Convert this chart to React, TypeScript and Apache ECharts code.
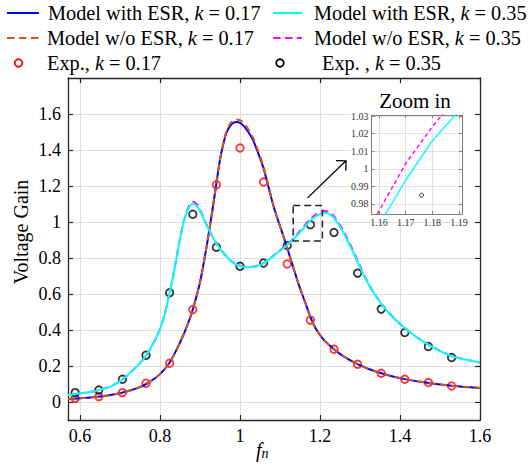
import React, { useEffect, useRef } from "react";
import * as echarts from "echarts";

// ---- k = 0.17 model curves ----
const fn017 = [0.57, 0.6, 0.65, 0.7, 0.75, 0.78, 0.8, 0.823, 0.85, 0.87, 0.882, 0.9, 0.917, 0.93, 0.94, 0.95, 0.96, 0.967, 0.975, 0.983, 0.992, 1.0, 1.008, 1.02, 1.033, 1.045, 1.058, 1.07, 1.083, 1.095, 1.108, 1.118, 1.13, 1.148, 1.163, 1.177, 1.19, 1.208, 1.235, 1.26, 1.294, 1.32, 1.353, 1.38, 1.412, 1.44, 1.471, 1.5, 1.529, 1.56, 1.6];
const gainEsr017 = [0.017, 0.021, 0.031, 0.049, 0.083, 0.12, 0.155, 0.215, 0.33, 0.435, 0.514, 0.665, 0.87, 1.05, 1.2, 1.345, 1.45, 1.5, 1.533, 1.551, 1.556, 1.551, 1.537, 1.503, 1.453, 1.385, 1.305, 1.205, 1.095, 1.01, 0.925, 0.855, 0.77, 0.645, 0.553, 0.466, 0.405, 0.349, 0.293, 0.252, 0.21, 0.185, 0.16, 0.143, 0.127, 0.116, 0.106, 0.097, 0.09, 0.084, 0.078];
const gainNoEsr017 = [0.017, 0.021, 0.031, 0.049, 0.083, 0.12, 0.155, 0.215, 0.33, 0.435, 0.514, 0.665, 0.87, 1.05, 1.2, 1.347, 1.455, 1.51, 1.545, 1.563, 1.57, 1.566, 1.553, 1.518, 1.466, 1.397, 1.313, 1.21, 1.097, 1.011, 0.925, 0.855, 0.77, 0.645, 0.553, 0.466, 0.405, 0.349, 0.293, 0.252, 0.21, 0.185, 0.16, 0.143, 0.127, 0.116, 0.106, 0.097, 0.09, 0.084, 0.078];

// ---- k = 0.35 model curves ----
const fn035 = [0.57, 0.588, 0.6, 0.625, 0.647, 0.68, 0.706, 0.725, 0.75, 0.765, 0.78, 0.8, 0.812, 0.823, 0.833, 0.842, 0.85, 0.858, 0.867, 0.875, 0.883, 0.892, 0.9, 0.912, 0.925, 0.94, 0.95, 0.967, 0.975, 0.988, 1.0, 1.015, 1.025, 1.04, 1.058, 1.075, 1.092, 1.117, 1.133, 1.15, 1.16, 1.17, 1.18, 1.19, 1.2, 1.21, 1.22, 1.233, 1.245, 1.258, 1.27, 1.283, 1.308, 1.333, 1.367, 1.4, 1.442, 1.483, 1.525, 1.56, 1.6];
const gainEsr035 = [0.038, 0.044, 0.048, 0.056, 0.066, 0.09, 0.124, 0.162, 0.215, 0.258, 0.312, 0.405, 0.49, 0.595, 0.7, 0.81, 0.905, 0.99, 1.055, 1.09, 1.101, 1.088, 1.062, 1.005, 0.945, 0.885, 0.852, 0.806, 0.788, 0.767, 0.756, 0.75, 0.749, 0.753, 0.77, 0.795, 0.826, 0.869, 0.903, 0.944, 0.968, 0.9935, 1.016, 1.033, 1.044, 1.051, 1.048, 1.028, 0.99, 0.943, 0.89, 0.832, 0.711, 0.609, 0.507, 0.433, 0.359, 0.303, 0.258, 0.237, 0.219];
const gainNoEsr035 = [0.038, 0.044, 0.048, 0.056, 0.066, 0.09, 0.124, 0.162, 0.215, 0.258, 0.312, 0.405, 0.49, 0.595, 0.7, 0.81, 0.905, 0.99, 1.06, 1.098, 1.112, 1.098, 1.068, 1.008, 0.946, 0.886, 0.853, 0.807, 0.789, 0.768, 0.757, 0.751, 0.75, 0.754, 0.771, 0.797, 0.829, 0.873, 0.906, 0.95, 0.976, 1.003, 1.024, 1.042, 1.054, 1.061, 1.058, 1.037, 0.999, 0.952, 0.899, 0.84, 0.716, 0.612, 0.509, 0.434, 0.36, 0.304, 0.259, 0.238, 0.22];

// ---- experiments ----
const fnExp = [0.588, 0.647, 0.706, 0.765, 0.824, 0.882, 0.941, 1.0, 1.059, 1.118, 1.176, 1.235, 1.294, 1.353, 1.412, 1.471, 1.529];
const expGain017 = [0.02, 0.03, 0.052, 0.104, 0.215, 0.514, 1.207, 1.411, 1.222, 0.767, 0.455, 0.293, 0.21, 0.16, 0.126, 0.108, 0.089];
const expGain035 = [0.052, 0.067, 0.126, 0.26, 0.607, 1.043, 0.86, 0.754, 0.772, 0.869, 0.985, 0.942, 0.716, 0.516, 0.386, 0.308, 0.247];

// ---- ticks ----
const xTicks = [0.6, 0.8, 1, 1.2, 1.4, 1.6];
const yTicks = [0, 0.2, 0.4, 0.6, 0.8, 1, 1.2, 1.4, 1.6];
const insetXTicks = [1.16, 1.17, 1.18, 1.19];
const insetYTicks = [0.98, 0.99, 1, 1.01, 1.02, 1.03];

const pairs = (xs: number[], ys: number[]) => xs.map((x, i) => [x, ys[i]]);

const FONT = "'Liberation Serif', 'Times New Roman', serif";
const BLUE = "#0000ff";
const ORANGE = "#d95319";
const CYAN = "#00ffff";
const MAGENTA = "#ff00ff";
const RED = "#ff0000";

function makeAxis(opts: any) {
  const { gridIndex, min, max, position, ticks, labels, main, z } = opts;
  const color = main ? "#262626" : "#808080";
  return {
    type: "value",
    gridIndex,
    min,
    max,
    position,
    z,
    axisLine: { show: true, onZero: false, lineStyle: { color, width: main ? 1.3 : 1.1 } },
    axisTick: { show: true, inside: true, length: main ? 5 : 3, customValues: ticks, lineStyle: { color, width: main ? 1.2 : 1 } },
    axisLabel: labels
      ? {
          show: true,
          customValues: ticks,
          fontFamily: FONT,
          fontSize: main ? 18 : 10,
          color: main ? "#000" : "#333",
          margin: main ? 7 : 3,
        }
      : { show: false },
    splitLine: labels ? { show: true, lineStyle: { color: main ? "#dedede" : "#e2e2e2", width: 1 } } : { show: false },
  };
}

export default function App() {
  const ref = useRef<HTMLDivElement>(null);

  useEffect(() => {
    if (!ref.current) return;
    const chart = echarts.init(ref.current, undefined, { renderer: "svg" });

    const lineBase = { type: "line", showSymbol: false, symbol: "none", smooth: 0.3, silent: true };
    const insetLine = { type: "line", showSymbol: false, symbol: "none", smooth: false, silent: true };

    chart.setOption({
      animation: false,
      backgroundColor: "#fff",
      grid: [
        { left: 68, top: 78, width: 412, height: 342 },
        { left: 371.5, top: 115, width: 90.5, height: 99, z: 6 },
      ],
      xAxis: [
        makeAxis({ gridIndex: 0, min: 0.57, max: 1.6, position: "bottom", ticks: xTicks, labels: true, main: true }),
        makeAxis({ gridIndex: 0, min: 0.57, max: 1.6, position: "top", ticks: xTicks, labels: false, main: true }),
        makeAxis({ gridIndex: 1, min: 1.1572, max: 1.1911, position: "bottom", ticks: insetXTicks, labels: true, main: false, z: 6 }),
        makeAxis({ gridIndex: 1, min: 1.1572, max: 1.1911, position: "top", ticks: insetXTicks, labels: false, main: false, z: 6 }),
      ],
      yAxis: [
        makeAxis({ gridIndex: 0, min: -0.1, max: 1.8, position: "left", ticks: yTicks, labels: true, main: true }),
        makeAxis({ gridIndex: 0, min: -0.1, max: 1.8, position: "right", ticks: yTicks, labels: false, main: true }),
        makeAxis({ gridIndex: 1, min: 0.9743, max: 1.0306, position: "left", ticks: insetYTicks, labels: true, main: false, z: 6 }),
        makeAxis({ gridIndex: 1, min: 0.9743, max: 1.0306, position: "right", ticks: insetYTicks, labels: false, main: false, z: 6 }),
      ],
      series: [
        { ...lineBase, name: "Model with ESR, k = 0.17", xAxisIndex: 0, yAxisIndex: 0, data: pairs(fn017, gainEsr017), lineStyle: { color: BLUE, width: 2 } },
        { ...lineBase, name: "Model w/o ESR, k = 0.17", xAxisIndex: 0, yAxisIndex: 0, data: pairs(fn017, gainNoEsr017), lineStyle: { color: ORANGE, width: 2, type: [7, 4.5] } },
        { ...lineBase, name: "Model w/o ESR, k = 0.35", xAxisIndex: 0, yAxisIndex: 0, data: pairs(fn035, gainNoEsr035), lineStyle: { color: MAGENTA, width: 2, type: [7, 4.5] } },
        { ...lineBase, name: "Model with ESR, k = 0.35", xAxisIndex: 0, yAxisIndex: 0, data: pairs(fn035, gainEsr035), lineStyle: { color: CYAN, width: 2 } },
        {
          type: "scatter", name: "Exp., k = 0.17", xAxisIndex: 0, yAxisIndex: 0, silent: true,
          data: pairs(fnExp, expGain017), symbol: "circle", symbolSize: 7.5,
          itemStyle: { color: "rgba(0,0,0,0)", borderColor: RED, borderWidth: 1.8 },
        },
        {
          type: "scatter", name: "Exp. , k = 0.35", xAxisIndex: 0, yAxisIndex: 0, silent: true,
          data: pairs(fnExp, expGain035), symbol: "circle", symbolSize: 7.5,
          itemStyle: { color: "rgba(0,0,0,0)", borderColor: "#000", borderWidth: 1.8 },
        },
        // inset
        { ...insetLine, z: 7, xAxisIndex: 2, yAxisIndex: 2, data: pairs(fn035, gainNoEsr035), lineStyle: { color: MAGENTA, width: 1.4, type: [4, 3] } },
        { ...insetLine, z: 7, xAxisIndex: 2, yAxisIndex: 2, data: pairs(fn035, gainEsr035), lineStyle: { color: CYAN, width: 1.4 } },
        {
          type: "scatter", z: 7, xAxisIndex: 2, yAxisIndex: 2, silent: true,
          data: pairs(fnExp, expGain035), symbol: "circle", symbolSize: 4,
          itemStyle: { color: "rgba(0,0,0,0)", borderColor: "#000", borderWidth: 1 },
        },
      ],
    });

    const toPx = (p: number[]) => chart.convertToPixel({ xAxisIndex: 0, yAxisIndex: 0 } as any, p) as number[];
    const b1 = toPx([1.133, 1.091]);
    const b2 = toPx([1.206, 0.895]);
    const a1 = toPx([1.169, 1.134]);
    const a2 = toPx([1.265, 1.34]);
    const ang = Math.atan2(a2[1] - a1[1], a2[0] - a1[0]);
    const L = 10;
    const h1 = [a2[0] - L * Math.cos(ang - Math.PI / 4), a2[1] - L * Math.sin(ang - Math.PI / 4)];
    const h2 = [a2[0] - L * Math.cos(ang + Math.PI / 4), a2[1] - L * Math.sin(ang + Math.PI / 4)];

    const LF = 20.3;
    const txt = (x: number, y: number, text: string) => ({
      type: "text",
      x,
      y,
      z: 20,
      style: {
        text,
        fontFamily: FONT,
        fontSize: LF,
        fill: "#000",
        align: "left",
        verticalAlign: "middle",
        rich: {
          a: { fontFamily: FONT, fontSize: LF, fill: "#000" },
          i: { fontFamily: FONT, fontSize: LF, fontStyle: "italic", fill: "#000" },
        },
      },
    });

    const row1 = 13, row2 = 38, row3 = 63;

    chart.setOption({
      graphic: [
        // white panel behind inset
        { type: "rect", z: 4, shape: { x: 351, y: 84, width: 123, height: 138 }, style: { fill: "#fff" } },
        // Zoom in title
        { type: "text", z: 20, x: 415, y: 101, style: { text: "Zoom in", fontFamily: FONT, fontSize: 21, fill: "#000", align: "center", verticalAlign: "middle" } },
        // dashed box
        {
          type: "rect", z: 20,
          shape: { x: b1[0], y: b1[1], width: b2[0] - b1[0], height: b2[1] - b1[1] },
          style: { fill: "none", stroke: "#222", lineWidth: 1.5, lineDash: [7, 4] },
        },
        // arrow
        { type: "line", z: 20, shape: { x1: a1[0], y1: a1[1], x2: a2[0], y2: a2[1] }, style: { stroke: "#000", lineWidth: 1.3 } },
        { type: "polyline", z: 20, shape: { points: [h1, a2, h2] }, style: { stroke: "#000", lineWidth: 1.3, fill: "none" } },
        // legend
        { type: "line", z: 20, shape: { x1: 7, y1: row1, x2: 39, y2: row1 }, style: { stroke: BLUE, lineWidth: 2 } },
        txt(48, row1, "{a|Model with ESR, }{i|k}{a| = 0.17}"),
        { type: "line", z: 20, shape: { x1: 273, y1: row1, x2: 302, y2: row1 }, style: { stroke: CYAN, lineWidth: 2 } },
        txt(314, row1, "{a|Model with ESR, }{i|k}{a| = 0.35}"),
        { type: "line", z: 20, shape: { x1: 7, y1: row2, x2: 39, y2: row2 }, style: { stroke: ORANGE, lineWidth: 2, lineDash: [7.5, 4.5] } },
        txt(47, row2, "{a|Model w/o ESR, }{i|k}{a| = 0.17}"),
        { type: "line", z: 20, shape: { x1: 273, y1: row2, x2: 302, y2: row2 }, style: { stroke: MAGENTA, lineWidth: 2, lineDash: [7.5, 4.5] } },
        txt(314, row2, "{a|Model w/o ESR, }{i|k}{a| = 0.35}"),
        { type: "circle", z: 20, shape: { cx: 18.5, cy: row3, r: 3.8 }, style: { fill: "none", stroke: RED, lineWidth: 1.8 } },
        txt(47, row3, "{a|Exp., }{i|k}{a| = 0.17}"),
        { type: "circle", z: 20, shape: { cx: 280, cy: row3, r: 3.8 }, style: { fill: "none", stroke: "#000", lineWidth: 1.8 } },
        txt(322, row3, "{a|Exp. , }{i|k}{a| = 0.35}"),
        // axis names
        {
          type: "text", z: 20, x: 21, y: 232, rotation: Math.PI / 2,
          style: { text: "Voltage Gain", fontFamily: FONT, fontSize: 20, fill: "#000", align: "center", verticalAlign: "middle" },
        },
        {
          type: "text", z: 20, x: 256, y: 450,
          style: {
            text: "{f|f}{n|n}",
            fontFamily: FONT,
            fontSize: 20,
            fill: "#000",
            align: "left",
            verticalAlign: "middle",
            rich: {
              f: { fontFamily: FONT, fontSize: 20, fontStyle: "italic", fill: "#000", verticalAlign: "bottom", lineHeight: 20 },
              n: { fontFamily: FONT, fontSize: 14, fontStyle: "italic", fill: "#000", verticalAlign: "bottom", lineHeight: 20 },
            },
          },
        },
      ],
    });

    return () => chart.dispose();
  }, []);

  return <div ref={ref} style={{ position: "absolute", left: 0, top: 0, width: 530, height: 466 }} />;
}
